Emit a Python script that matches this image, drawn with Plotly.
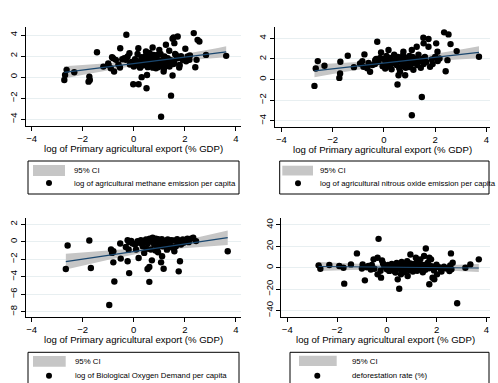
import numpy as np
import plotly.graph_objects as go

# ---------------- data ----------------
x_methane = [-2.72,-2.69,-2.63,-2.33,-1.74,-1.77,-1.72,-1.44,-1.19,-0.99,-0.90,-0.77,-0.81,-0.70,-0.53,-0.54,-0.29,-0.37,-0.31,-0.24,
             -0.17,-0.02,0.19,0.18,0.50,0.31,0.52,0.02,0.09,0.22,0.35,0.41,0.48,0.54,0.74,0.61,0.67,0.80,0.87,0.93,
             1.00,1.07,1.13,1.07,1.17,1.20,1.26,1.39,1.46,1.52,1.52,1.59,1.72,1.56,1.65,1.72,1.59,1.78,1.92,2.02,
             2.11,2.18,2.35,2.50,2.57,2.41,2.46,2.83,3.62,1.52,1.33,0.00,0.05,0.10,0.15,0.20,0.25,0.30,0.35,0.40,
             0.45,0.50,0.55,0.60,0.62,0.65,0.70,0.72,0.75,0.78,0.82,0.85,0.88,0.90,0.92,0.95,0.98,1.02,1.05,1.08,
             1.10,1.15,1.18,1.25,1.28,1.35,1.40,1.45,1.55,1.62,-0.10,-0.15,-0.60,-0.45,-1.00,-0.85,1.85,2.05,2.20,1.80]
y_methane = [-0.27,0.21,0.69,0.46,0.05,-0.43,-0.27,2.37,1.00,1.16,0.85,0.53,1.80,1.64,2.75,0.91,4.02,1.80,1.64,1.96,
             2.27,-0.68,-0.68,2.75,-1.06,0.00,0.21,1.16,1.48,1.00,1.32,1.80,2.43,2.11,2.81,1.48,1.16,1.80,0.85,2.11,
             2.59,1.48,1.00,-3.76,0.53,1.96,3.07,2.50,-1.76,0.15,3.64,3.23,3.86,3.77,2.11,1.80,1.32,0.91,1.64,2.69,
             1.96,1.64,4.18,3.54,3.38,0.94,1.64,2.11,2.02,1.48,1.80,1.00,1.70,1.30,2.20,1.50,0.90,1.90,1.10,1.60,
             2.00,1.30,0.95,1.75,2.30,1.20,1.90,1.40,0.90,2.10,1.10,1.35,2.00,1.70,1.20,0.95,1.50,1.30,2.20,1.05,
             1.60,1.35,0.80,1.15,1.75,1.40,1.00,1.60,1.25,2.20,1.45,1.20,1.20,1.70,1.30,1.90,2.00,1.50,2.05,1.15]

x_nitrous = [-2.71,-2.66,-2.58,-2.32,-1.74,-1.71,-1.70,-1.41,-1.17,-0.93,-0.84,-0.76,-0.80,-0.54,-0.26,-0.34,-0.21,-0.11,0.05,0.18,
             0.24,0.53,0.57,0.63,0.83,0.76,1.09,1.09,1.28,1.48,1.54,1.55,1.74,1.74,2.04,2.09,2.17,1.80,2.35,2.52,
             2.60,2.84,2.41,2.48,3.71,1.44,1.87,-0.60,-0.45,-0.65,-0.35,-0.30,-0.30,0.00,0.05,0.10,0.15,0.20,0.25,0.30,
             0.35,0.40,0.45,0.50,0.55,0.60,0.65,0.70,0.72,0.75,0.80,0.82,0.85,0.90,0.92,0.95,1.00,1.02,1.05,1.10,
             1.12,1.15,1.20,1.25,1.30,1.35,1.40,1.50,1.55,1.60,1.65,1.90,2.00,2.10,-0.05,-0.15]
y_nitrous = [-0.62,1.07,1.79,1.33,0.16,0.58,1.72,2.31,1.20,1.56,1.79,2.44,1.23,0.75,3.67,1.88,1.72,2.63,1.07,2.86,
             1.23,-0.49,0.42,0.75,0.42,2.69,2.86,-3.47,3.18,-1.69,4.06,3.51,3.93,3.18,3.51,2.69,2.05,1.23,4.58,4.38,
             3.44,2.76,0.81,1.88,2.21,1.14,1.95,1.60,1.40,1.10,1.50,1.75,2.00,2.00,1.50,2.30,1.30,1.80,2.10,1.00,
             1.60,2.40,1.90,1.40,2.20,1.10,1.75,2.00,1.30,2.35,1.60,1.90,1.15,2.10,1.45,1.75,2.30,1.20,1.95,1.55,
             2.20,0.95,1.70,2.00,1.40,2.40,1.80,2.00,1.50,2.20,1.70,1.50,2.20,1.80,1.30,2.10]

x_bod = [-2.66,-2.59,-1.74,-1.68,-0.96,-0.89,-0.85,-0.80,-0.76,-0.80,-0.53,-0.51,-0.24,-0.18,-0.20,-0.24,-0.18,0.15,0.19,0.09,
         0.22,0.41,0.35,0.48,0.54,0.61,0.61,0.71,0.67,0.74,0.80,0.87,0.93,1.00,1.07,1.11,1.07,1.17,1.13,1.24,
         1.33,1.39,1.46,1.52,1.59,1.76,1.81,1.72,1.85,1.92,2.05,2.15,2.24,2.33,2.44,3.68,-0.31,-0.04,0.28,0.30,
         0.45,0.55,0.62,0.70,0.78,0.85,0.90,0.95,1.02,1.10,1.20,1.28,1.35,1.42,1.55,1.65,1.70,1.95,2.10,0.50,
         0.85,1.30,0.05,-0.10,0.95]
y_bod = [-3.12,-0.42,0.15,-3.00,-7.23,-0.88,-1.27,-1.08,-4.54,-2.35,-0.19,-1.92,0.19,-0.04,-0.88,-2.23,-3.58,0.08,-1.85,-0.88,
         -0.12,-1.27,-0.50,0.27,-3.12,-2.88,-4.58,-2.12,-0.88,0.46,-0.31,0.35,-0.69,-0.04,0.19,-1.65,-2.35,-3.08,-0.50,-0.12,
         0.27,-0.31,0.19,-0.69,-1.08,-3.38,-2.23,-0.04,-0.31,0.27,0.19,-0.04,0.35,0.46,0.08,-1.08,-0.58,-0.19,0.19,-0.10,
         0.10,-0.20,0.35,0.10,0.25,-0.15,0.15,0.30,-0.30,0.30,0.10,-0.60,0.00,-0.40,0.15,-0.50,0.30,-0.10,0.35,-0.80,
         -1.00,-0.90,-0.30,0.10,-1.20]

x_defor = [-2.74,-2.67,-2.31,-1.91,-1.74,-1.71,-1.44,-1.20,-0.97,-0.88,-0.74,-0.64,-0.53,-0.37,-0.33,-0.37,-0.23,-0.19,0.44,0.50,
           0.30,0.57,0.84,0.95,1.17,1.35,1.57,1.50,1.71,1.78,1.84,1.71,1.91,2.02,2.18,2.58,2.65,2.52,2.83,3.16,
           3.36,3.70,-0.10,0.00,0.05,0.10,0.15,0.20,0.25,0.30,0.35,0.40,0.45,0.50,0.55,0.60,0.62,0.65,0.70,0.72,
           0.75,0.80,0.82,0.85,0.90,0.92,0.95,1.00,1.02,1.05,1.08,1.10,1.15,1.20,1.22,1.25,1.30,1.35,1.40,1.45,
           1.50,1.55,1.60,1.65,1.70,1.80,1.90,2.00,2.10,2.20,2.30,2.40,2.55,2.60,-0.50,-0.60,-0.80,-1.00,-0.25,-0.15]
y_defor = [2.2,-0.9,2.5,1.6,0.0,-14.9,3.1,13.4,3.1,-11.8,1.6,-1.6,7.8,9.3,27.0,-6.2,-9.3,6.8,-10.9,-19.6,
           -3.1,-6.2,-7.8,12.4,9.3,7.8,18.0,10.9,9.3,7.8,-9.3,-15.5,-10.9,-6.2,-1.6,13.4,4.7,-3.1,-33.2,0.0,
           3.1,7.8,1.0,-1.5,2.5,-3.0,0.5,3.5,-2.0,1.5,-4.5,4.5,0.0,-1.0,2.0,5.5,-2.5,0.8,3.0,-4.0,
           1.2,-0.5,6.0,2.2,-2.2,0.3,4.0,-1.2,1.8,-3.5,3.2,0.6,-0.8,5.0,-2.8,1.5,-1.0,3.0,0.2,-4.2,
           2.5,-1.8,0.8,4.8,-0.5,1.5,-2.5,2.8,0.5,-3.5,1.0,-0.8,2.0,-1.5,-1.0,2.5,0.5,-0.8,-2.8,4.0]

x_ticks = [-4, -2, 0, 2, 4]
y_ticks_methane = [-4, -2, 0, 2, 4]
y_ticks_nitrous = [-4, -2, 0, 2, 4]
y_ticks_bod = [-8, -6, -4, -2, 0, 2]
y_ticks_defor = [-40, -20, 0, 20, 40]

x_title = "log of Primary agricultural export (% GDP)"
ci_label = "95% CI"
series_labels = ["log of agricultural methane emission per capita",
                 "log of agricultural nitrous oxide emission per capita",
                 "log of Biological Oxygen Demand per capita",
                 "deforestation rate (%)"]

# ---------------- style / layout ----------------
W, H = 498, 383
FONT = "Liberation Sans, Arial, sans-serif"
NAVY = "#1a476f"
BAND = "#c6c6c6"
GRID = "#e8eff1"

def fx(px):
    return px / W

def fy(py):
    return 1 - py / H

panels = [
    dict(x=x_methane, y=y_methane, yt=y_ticks_methane, dom=(26, 241, 26.7, 126),
         xr=(-4.22, 4.20), yr=(-4.64, 4.79),
         leg=dict(box=(28, 239, 161, 194), sw=(33, 65, 165, 176), dot=(49, 183), tx=72, ty1=170.5, ty2=183)),
    dict(x=x_nitrous, y=y_nitrous, yt=y_ticks_nitrous, dom=(275, 490, 27.3, 126.7),
         xr=(-4.25, 4.14), yr=(-4.58, 5.07),
         leg=dict(box=(279.7, 489, 161, 194), sw=(282.3, 313, 165.7, 175.5), dot=(298, 183.3), tx=318.3, ty1=170.5, ty2=183.3)),
    dict(x=x_bod, y=y_bod, yt=y_ticks_bod, dom=(26, 241, 218.3, 316.7),
         xr=(-4.22, 4.20), yr=(-8.57, 2.69),
         leg=dict(box=(28, 239, 352.3, 386), sw=(33, 65.7, 356, 366.7), dot=(49, 375.7), tx=72.7, ty1=361.5, ty2=375.7)),
    dict(x=x_defor, y=y_defor, yt=y_ticks_defor, dom=(281.3, 490, 218.3, 316.7),
         xr=(-4.24, 4.15), yr=(-45.8, 46.2),
         leg=dict(box=(290, 489, 352.3, 386), sw=(299, 336.7, 355.7, 366), dot=(317.3, 375.7), tx=350, ty1=361.5, ty2=375.7)),
]

fig = go.Figure()
shapes = []
annotations = []

for i, p in enumerate(panels):
    n = i + 1
    xa = "x" if n == 1 else f"x{n}"
    ya = "y" if n == 1 else f"y{n}"
    xs = np.array(p["x"], dtype=float)
    ys = np.array(p["y"], dtype=float)
    # linear fit with 95% CI of the prediction mean (as Stata lfitci)
    k = len(xs)
    b, a = np.polyfit(xs, ys, 1)
    resid = ys - (a + b * xs)
    s = np.sqrt(np.sum(resid ** 2) / (k - 2))
    sxx = np.sum((xs - xs.mean()) ** 2)
    grid = np.linspace(xs.min(), xs.max(), 60)
    fit = a + b * grid
    se = s * np.sqrt(1.0 / k + (grid - xs.mean()) ** 2 / sxx)
    tq = 1.98
    lo, hi = fit - tq * se, fit + tq * se

    fig.add_trace(go.Scatter(x=np.concatenate([grid, grid[::-1]]), y=np.concatenate([hi, lo[::-1]]),
                             fill="toself", fillcolor=BAND, line=dict(width=0), mode="lines",
                             hoverinfo="skip", showlegend=False, xaxis=xa, yaxis=ya))
    fig.add_trace(go.Scatter(x=xs, y=ys, mode="markers",
                             marker=dict(color="black", size=6.4, line=dict(width=0)),
                             showlegend=False, xaxis=xa, yaxis=ya))
    fig.add_trace(go.Scatter(x=grid, y=fit, mode="lines", line=dict(color=NAVY, width=1.1),
                             showlegend=False, xaxis=xa, yaxis=ya))

    x0, x1, ytop, ybot = p["dom"]
    axis_common = dict(showline=True, linecolor="black", linewidth=1, ticks="outside", ticklen=4,
                       tickwidth=1, tickcolor="black", zeroline=False,
                       tickfont=dict(family=FONT, size=9.5, color="black"))
    fig.layout[("xaxis" if n == 1 else f"xaxis{n}")] = dict(
        domain=[fx(x0), fx(x1)], range=list(p["xr"]), anchor=ya, tickvals=x_ticks,
        showgrid=False, **axis_common)
    fig.layout[("yaxis" if n == 1 else f"yaxis{n}")] = dict(
        domain=[fy(ybot), fy(ytop)], range=list(p["yr"]), anchor=xa, tickvals=p["yt"],
        tickangle=-90, showgrid=True, gridcolor=GRID, gridwidth=1, **axis_common)

    # axis title
    annotations.append(dict(text=x_title, x=fx((x0 + x1) / 2), y=fy(ybot + 22.5), xref="paper", yref="paper",
                            showarrow=False, xanchor="center", yanchor="middle",
                            font=dict(family=FONT, size=9.6, color="black")))

    # legend (Stata style box under each panel)
    L = p["leg"]
    bx0, bx1, by0, by1 = L["box"]
    shapes.append(dict(type="rect", xref="paper", yref="paper", x0=fx(bx0), x1=fx(bx1), y0=fy(by1), y1=fy(by0),
                       line=dict(color="black", width=1), fillcolor="white", layer="below"))
    sx0, sx1, sy0, sy1 = L["sw"]
    shapes.append(dict(type="rect", xref="paper", yref="paper", x0=fx(sx0), x1=fx(sx1), y0=fy(sy1), y1=fy(sy0),
                       line=dict(width=0), fillcolor=BAND))
    dx, dy = L["dot"]
    r = 3.0
    shapes.append(dict(type="circle", xref="paper", yref="paper", x0=fx(dx - r), x1=fx(dx + r),
                       y0=fy(dy + r), y1=fy(dy - r), line=dict(width=0), fillcolor="black"))
    annotations.append(dict(text=ci_label, x=fx(L["tx"]), y=fy(L["ty1"]), xref="paper", yref="paper",
                            showarrow=False, xanchor="left", yanchor="middle",
                            font=dict(family=FONT, size=7.8, color="black")))
    annotations.append(dict(text=series_labels[i], x=fx(L["tx"]), y=fy(L["ty2"]), xref="paper", yref="paper",
                            showarrow=False, xanchor="left", yanchor="middle",
                            font=dict(family=FONT, size=7.8, color="black")))

fig.update_layout(width=W, height=H, margin=dict(l=0, r=0, t=0, b=0),
                  paper_bgcolor="white", plot_bgcolor="white", showlegend=False,
                  shapes=shapes, annotations=annotations,
                  font=dict(family=FONT, color="black"))

fig.write_html("out.html", config={"displayModeBar": False, "staticPlot": True},
               post_script="document.body.style.margin='0';document.body.style.padding='0';"
                           "document.documentElement.style.overflow='hidden';")
